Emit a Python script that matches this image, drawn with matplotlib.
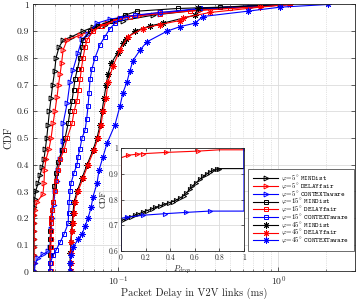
import matplotlib
matplotlib.use("Agg")
import matplotlib.pyplot as plt
from matplotlib.ticker import FixedLocator, FixedFormatter, LogLocator, NullFormatter

plt.rcParams["font.family"] = "serif"
plt.rcParams["font.serif"] = ["cmr10", "DejaVu Serif"]
plt.rcParams["mathtext.fontset"] = "cm"
plt.rcParams["axes.formatter.use_mathtext"] = True

# main plot: packet delay CDFs (x in ms, y = CDF)
min5_x = [0.0297, 0.0297, 0.0297, 0.0297, 0.0297, 0.0297, 0.0298, 0.0298, 0.0298, 0.0300, 0.0304, 0.0315,
          0.0324, 0.0334, 0.0343, 0.0350, 0.0357, 0.0364, 0.0371, 0.0380, 0.0389, 0.0400, 0.0408, 0.0426,
          0.0452, 0.0514, 0.0602, 0.0695, 0.0826, 0.107, 0.165, 0.324, 1.03]
min5_y = [0, 0.03, 0.06, 0.09, 0.12, 0.15, 0.18, 0.21, 0.24, 0.27, 0.30, 0.33, 0.36, 0.39, 0.42, 0.46, 0.50,
          0.55, 0.60, 0.65, 0.70, 0.75, 0.80, 0.84, 0.867, 0.88, 0.90, 0.915, 0.925, 0.94, 0.96, 0.98, 1.0]
del5_x = [0.0297, 0.0297, 0.0297, 0.0297, 0.0297, 0.0298, 0.0298, 0.0299, 0.0302, 0.0310, 0.0338, 0.0343,
          0.0346, 0.0353, 0.0369, 0.0380, 0.0391, 0.0402, 0.0414, 0.0423, 0.0433, 0.0442, 0.0452, 0.0479,
          0.0577, 0.0695, 0.085, 0.1025, 0.137, 0.182, 0.324, 0.665, 1.18]
del5_y = [0, 0.03, 0.06, 0.09, 0.12, 0.15, 0.18, 0.21, 0.23, 0.26, 0.29, 0.33, 0.38, 0.42, 0.46, 0.50, 0.555,
          0.60, 0.655, 0.70, 0.74, 0.78, 0.83, 0.867, 0.885, 0.905, 0.93, 0.95, 0.96, 0.97, 0.98, 0.99, 1.0]
ctx5_x = [0.0299, 0.0302, 0.0315, 0.0338, 0.0364, 0.0374, 0.0380, 0.0382, 0.0385, 0.0394, 0.0402, 0.0414,
          0.0420, 0.0433, 0.0445, 0.0448, 0.0452, 0.0479, 0.0499, 0.0521, 0.0560, 0.0593, 0.0647, 0.0736,
          0.0888, 0.1133, 0.182, 0.324, 0.665, 1.18]
ctx5_y = [0, 0.03, 0.05, 0.065, 0.075, 0.09, 0.12, 0.16, 0.20, 0.25, 0.30, 0.34, 0.38, 0.42, 0.455, 0.49,
          0.555, 0.63, 0.71, 0.755, 0.82, 0.87, 0.89, 0.93, 0.945, 0.955, 0.965, 0.985, 0.99, 1.0]
min15_x = [0.0374, 0.0374, 0.0375, 0.0375, 0.0376, 0.0376, 0.0377, 0.0378, 0.0385, 0.0391, 0.0397, 0.0408,
           0.0420, 0.0445, 0.0465, 0.0486, 0.0499, 0.0514, 0.0525, 0.0536, 0.0556, 0.0576, 0.0593, 0.0602,
           0.0666, 0.0747, 0.0914, 0.110, 0.131, 0.235, 0.432, 1.03]
min15_y = [0, 0.03, 0.06, 0.09, 0.12, 0.15, 0.18, 0.20, 0.23, 0.26, 0.32, 0.37, 0.41, 0.455, 0.50, 0.555,
           0.60, 0.64, 0.68, 0.72, 0.76, 0.80, 0.84, 0.867, 0.90, 0.92, 0.94, 0.96, 0.975, 0.985, 0.99, 1.0]
del15_x = [0.0378, 0.0378, 0.0378, 0.0379, 0.0379, 0.0380, 0.0380, 0.0381, 0.0385, 0.0391, 0.0400, 0.0408,
           0.0420, 0.0433, 0.0458, 0.0479, 0.0514, 0.0529, 0.0552, 0.0564, 0.0577, 0.0588, 0.0602, 0.0620,
           0.0638, 0.0695, 0.0791, 0.0954, 0.118, 0.182, 0.281, 0.499, 1.18]
del15_y = [0, 0.03, 0.06, 0.09, 0.12, 0.15, 0.18, 0.20, 0.23, 0.26, 0.30, 0.34, 0.38, 0.42, 0.455, 0.50,
           0.555, 0.60, 0.64, 0.68, 0.72, 0.76, 0.80, 0.84, 0.867, 0.90, 0.92, 0.94, 0.955, 0.965, 0.975,
           0.985, 1.0]
ctx15_x = [0.0374, 0.0374, 0.0391, 0.0408, 0.0433, 0.0458, 0.0486, 0.0489, 0.0493, 0.0499, 0.0506, 0.0529,
           0.0552, 0.0560, 0.0576, 0.0593, 0.0620, 0.0634, 0.0647, 0.0657, 0.0666, 0.0685, 0.0715, 0.0769,
           0.0826, 0.0888, 0.0954, 0.1025, 0.127, 0.182, 0.324, 1.03]
ctx15_y = [0, 0.03, 0.06, 0.08, 0.11, 0.14, 0.18, 0.22, 0.26, 0.30, 0.33, 0.37, 0.40, 0.43, 0.46, 0.50,
           0.53, 0.57, 0.62, 0.67, 0.72, 0.76, 0.80, 0.85, 0.88, 0.91, 0.93, 0.95, 0.96, 0.97, 0.985, 1.0]
min45_x = [0.0499, 0.0499, 0.0502, 0.0504, 0.0510, 0.0514, 0.0521, 0.0529, 0.0552, 0.0593, 0.0638, 0.0695,
           0.0736, 0.0770, 0.0791, 0.0815, 0.0840, 0.0863, 0.0905, 0.0990, 0.107, 0.112, 0.127, 0.158,
           0.190, 0.3015, 0.315, 1.03]
min45_y = [0, 0.03, 0.07, 0.11, 0.15, 0.18, 0.22, 0.26, 0.30, 0.35, 0.40, 0.455, 0.50, 0.55, 0.60, 0.65,
           0.70, 0.74, 0.78, 0.82, 0.855, 0.87, 0.90, 0.92, 0.93, 0.96, 0.985, 1.0]
del45_x = [0.0503, 0.0503, 0.0505, 0.0507, 0.0512, 0.0518, 0.0527, 0.0536, 0.0560, 0.0602, 0.0647, 0.0705,
           0.0747, 0.0780, 0.0803, 0.0838, 0.0863, 0.0927, 0.1025, 0.115, 0.143, 0.182, 0.243, 0.254, 0.374,
           0.769, 1.18]
del45_y = [0, 0.03, 0.07, 0.11, 0.15, 0.18, 0.22, 0.26, 0.30, 0.35, 0.40, 0.455, 0.50, 0.55, 0.60, 0.65,
           0.71, 0.77, 0.83, 0.88, 0.91, 0.925, 0.94, 0.95, 0.97, 0.99, 1.0]
ctx45_x = [0.0499, 0.0499, 0.0506, 0.0521, 0.0560, 0.0593, 0.0620, 0.0647, 0.0676, 0.0695, 0.0736, 0.0758,
           0.0803, 0.0850, 0.0954, 0.1025, 0.107, 0.1133, 0.118, 0.1235, 0.137, 0.151, 0.2016, 0.243, 0.3015,
           0.338, 0.6465, 1.03, 2.05]
ctx45_y = [0, 0.03, 0.06, 0.09, 0.12, 0.14, 0.17, 0.20, 0.24, 0.28, 0.33, 0.38, 0.43, 0.48, 0.55, 0.62,
           0.67, 0.71, 0.75, 0.79, 0.83, 0.86, 0.90, 0.917, 0.93, 0.955, 0.975, 0.99, 1.0]

# inset: packet drop probability CDFs for phi = 5 deg
pd_min_x = [0, 0, 0.02, 0.05, 0.08, 0.11, 0.14, 0.18, 0.21, 0.25, 0.28, 0.32, 0.35, 0.39, 0.42, 0.45, 0.48,
            0.51, 0.53, 0.56, 0.58, 0.61, 0.64, 0.67, 0.70, 0.72, 0.75, 0.78, 0.80, 1.0, 1.0]
pd_min_y = [0, 0.715, 0.722, 0.728, 0.733, 0.738, 0.744, 0.751, 0.757, 0.763, 0.769, 0.776, 0.781, 0.787,
            0.792, 0.798, 0.806, 0.815, 0.825, 0.840, 0.852, 0.865, 0.878, 0.890, 0.900, 0.907, 0.913, 0.918,
            0.920, 0.920, 1.0]
pd_del_x = [0, 0, 0.06, 0.13, 0.18, 0.37, 0.63, 0.80, 1.0]
pd_del_y = [0, 0.962, 0.972, 0.976, 0.978, 0.983, 0.988, 0.993, 0.993]
pd_ctx_x = [0, 0, 0.05, 0.18, 0.36, 0.53, 0.72, 1.0, 1.0]
pd_ctx_y = [0, 0.727, 0.731, 0.739, 0.745, 0.750, 0.755, 0.755, 1.0]

y_ticks = [0, 0.1, 0.2, 0.3, 0.4, 0.5, 0.6, 0.7, 0.8, 0.9, 1]
y_tick_labels = ["0", "0.1", "0.2", "0.3", "0.4", "0.5", "0.6", "0.7", "0.8", "0.9", "1"]
inset_x_ticks = [0, 0.2, 0.4, 0.6, 0.8, 1]
inset_x_labels = ["0", "0.2", "0.4", "0.6", "0.8", "1"]
inset_y_ticks = [0.6, 0.7, 0.8, 0.9, 1]
inset_y_labels = ["0.6", "0.7", "0.8", "0.9", "1"]

STAR = (8, 2, 0)   # MATLAB-style asterisk
series = [
    (min5_x, min5_y, "k", ">", r"$\varphi\!=\!5^{\circ}$ $\mathtt{MINDist}$"),
    (del5_x, del5_y, "r", ">", r"$\varphi\!=\!5^{\circ}$ $\mathtt{DELAYfair}$"),
    (ctx5_x, ctx5_y, "b", ">", r"$\varphi\!=\!5^{\circ}$ $\mathtt{CONTEXTaware}$"),
    (min15_x, min15_y, "k", "s", r"$\varphi\!=\!15^{\circ}$ $\mathtt{MINDist}$"),
    (del15_x, del15_y, "r", "s", r"$\varphi\!=\!15^{\circ}$ $\mathtt{DELAYfair}$"),
    (ctx15_x, ctx15_y, "b", "s", r"$\varphi\!=\!15^{\circ}$ $\mathtt{CONTEXTaware}$"),
    (min45_x, min45_y, "k", STAR, r"$\varphi\!=\!45^{\circ}$ $\mathtt{MINDist}$"),
    (del45_x, del45_y, "r", STAR, r"$\varphi\!=\!45^{\circ}$ $\mathtt{DELAYfair}$"),
    (ctx45_x, ctx45_y, "b", STAR, r"$\varphi\!=\!45^{\circ}$ $\mathtt{CONTEXTaware}$"),
]

fig = plt.figure(figsize=(3.57, 2.99), dpi=100)
ax = fig.add_axes([0.0938, 0.092, 0.8994, 0.893])
for xs, ys, col, mk, lab in series:
    ms = 4.5 if mk == STAR else 3.5
    ax.plot(xs, ys, color=col, marker=mk, mfc="none", ms=ms, mew=0.7, lw=0.8, label=lab)

ax.set_xscale("log")
ax.set_xlim(0.0295, 3.0)
ax.set_ylim(0, 1)
ax.yaxis.set_major_locator(FixedLocator(y_ticks))
ax.yaxis.set_major_formatter(FixedFormatter(y_tick_labels))
ax.xaxis.set_major_locator(LogLocator(base=10))
ax.xaxis.set_minor_locator(LogLocator(base=10, subs=range(2, 10)))
ax.xaxis.set_minor_formatter(NullFormatter())
ax.grid(True, which="major", color="#dcdcdc", lw=0.6)
ax.grid(True, which="minor", axis="x", color="#c8c8c8", lw=0.5, ls=":")
ax.set_axisbelow(True)
ax.tick_params(which="both", direction="in", top=True, right=True, labelsize=7, colors="#262626",
               labelcolor="#262626")
ax.tick_params(which="major", length=3, width=0.5)
ax.tick_params(which="minor", length=1.5, width=0.4)
ax.tick_params(axis="x", pad=2)
for s in ax.spines.values():
    s.set_color("#262626")
    s.set_linewidth(0.6)
ax.set_xlabel("Packet Delay in V2V links (ms)", fontsize=7.5, color="#262626", labelpad=0)
ax.set_ylabel("CDF", fontsize=7.5, color="#262626", labelpad=2)

leg = ax.legend(loc="lower right", bbox_to_anchor=(0.998, 0.077), fontsize=5, frameon=True,
                fancybox=False, edgecolor="#555555", framealpha=1, handlelength=3.6,
                labelspacing=-0.4, borderpad=0.7, handletextpad=0.4, borderaxespad=0)
leg.get_frame().set_linewidth(0.6)

# inset
ins = fig.add_axes([0.3389, 0.1605, 0.3445, 0.3445])
ins.set_facecolor("white")
ins.plot(pd_del_x, pd_del_y, color="r", marker=">", mfc="none", ms=3, mew=0.7, lw=0.8,
         markevery=slice(2, 7))
ins.plot(pd_min_x, pd_min_y, color="k", marker=">", mfc="none", ms=3, mew=0.7, lw=0.8,
         markevery=slice(2, 29))
ins.plot(pd_ctx_x, pd_ctx_y, color="b", marker=">", mfc="none", ms=3, mew=0.7, lw=0.8,
         markevery=slice(2, 7))
ins.set_xlim(0, 1)
ins.set_ylim(0.6, 1)
ins.xaxis.set_major_locator(FixedLocator(inset_x_ticks))
ins.xaxis.set_major_formatter(FixedFormatter(inset_x_labels))
ins.yaxis.set_major_locator(FixedLocator(inset_y_ticks))
ins.yaxis.set_major_formatter(FixedFormatter(inset_y_labels))
ins.grid(True, color="#dcdcdc", lw=0.6)
ins.set_axisbelow(True)
ins.tick_params(direction="in", top=True, right=True, labelsize=5.5, length=2, width=0.5,
                colors="#262626", labelcolor="#262626", pad=2)
for s in ins.spines.values():
    s.set_color("#262626")
    s.set_linewidth(0.6)
ins.set_xlabel(r"$P_{drop}$", fontsize=6, color="#262626", labelpad=1)
ins.set_ylabel("CDF", fontsize=6, color="#262626", labelpad=1)

fig.savefig("out.png", dpi=100)
